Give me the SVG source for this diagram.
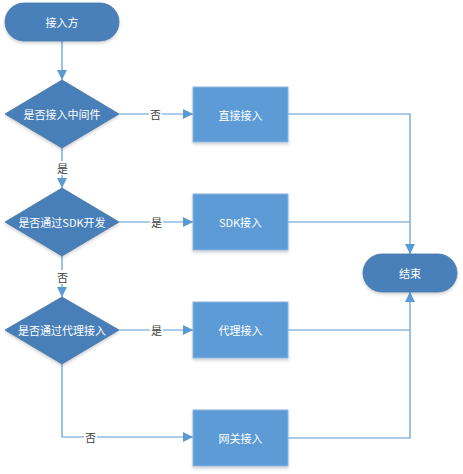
<svg xmlns="http://www.w3.org/2000/svg" width="463" height="474" viewBox="0 0 463 474">
<style>
.term{fill:#4a80b9;stroke:#4274a8;stroke-width:0.8}
.dec{fill:#4a7fb8;stroke:#4274a8;stroke-width:0.8}
.proc{fill:#5b9bd5;stroke:#8db6e0;stroke-width:1}
.t{font-family:"Microsoft YaHei","Noto Sans CJK SC",sans-serif;font-size:11px;fill:#ffffff;text-anchor:middle;dominant-baseline:central}
.lbl{font-family:"Noto Sans CJK SC",sans-serif;font-size:11px;fill:#404040;text-anchor:middle;dominant-baseline:central}
.ln{fill:none;stroke:#5b9bd5;stroke-width:1.2}
.lbg{fill:#ffffff}
</style>
<defs>
<marker id="arr" viewBox="0 0 10 10" refX="10" refY="5" markerWidth="10" markerHeight="10" markerUnits="userSpaceOnUse" orient="auto">
<path d="M0,0 L10,5 L0,10 z" fill="#5b9bd5"/>
</marker>
<filter id="sh" x="-20%" y="-20%" width="140%" height="150%">
<feDropShadow dx="0" dy="2" stdDeviation="1.5" flood-color="#000" flood-opacity="0.18"/>
</filter>
</defs>
<g id="connectors">
<path class="ln" d="M62,41 V80" marker-end="url(#arr)"/>
<path class="ln" d="M119,114 H193" marker-end="url(#arr)"/>
<path class="ln" d="M62,148 V188" marker-end="url(#arr)"/>
<path class="ln" d="M119,222 H193" marker-end="url(#arr)"/>
<path class="ln" d="M62,256 V297" marker-end="url(#arr)"/>
<path class="ln" d="M119,330 H193" marker-end="url(#arr)"/>
<path class="ln" d="M62,364 V437 H193" marker-end="url(#arr)"/>
<path class="ln" d="M288,114 H410 V254" marker-end="url(#arr)"/>
<path class="ln" d="M288,222 H410"/>
<path class="ln" d="M288,330 H410"/>
<path class="ln" d="M288,438 H410 V292" marker-end="url(#arr)"/>
<rect class="lbg" x="149" y="107" width="13" height="14"/>
<text class="lbl" x="155.5" y="114">否</text>
<rect class="lbg" x="56" y="161" width="13" height="14"/>
<text class="lbl" x="62.5" y="168">是</text>
<rect class="lbg" x="150" y="215" width="13" height="14"/>
<text class="lbl" x="156.5" y="222">是</text>
<rect class="lbg" x="56" y="270" width="13" height="14"/>
<text class="lbl" x="62.5" y="277">否</text>
<rect class="lbg" x="150" y="323" width="13" height="14"/>
<text class="lbl" x="156.5" y="330">是</text>
<rect class="lbg" x="84" y="430" width="13" height="14"/>
<text class="lbl" x="90.5" y="437">否</text>
</g>
<g id="start">
<rect class="term" filter="url(#sh)" x="5" y="3" width="114" height="38" rx="19"/>
<text class="t" x="62" y="22">接入方</text>
</g>
<g id="dec1">
<polygon class="dec" filter="url(#sh)" points="62,80 119,114 62,148 5,114"/>
<text class="t" x="62" y="114">是否接入中间件</text>
</g>
<g id="dec2">
<polygon class="dec" filter="url(#sh)" points="62,188 119,222 62,256 5,222"/>
<text class="t" x="62" y="222">是否通过SDK开发</text>
</g>
<g id="dec3">
<polygon class="dec" filter="url(#sh)" points="62,297 119,330 62,364 5,330"/>
<text class="t" x="62" y="330">是否通过代理接入</text>
</g>
<g id="direct">
<rect class="proc" filter="url(#sh)" x="193" y="87" width="95" height="55"/>
<text class="t" x="240.5" y="114.5">直接接入</text>
</g>
<g id="sdk">
<rect class="proc" filter="url(#sh)" x="193" y="194" width="95" height="56"/>
<text class="t" x="240.5" y="222">SDK接入</text>
</g>
<g id="proxy">
<rect class="proc" filter="url(#sh)" x="193" y="302" width="95" height="56"/>
<text class="t" x="240.5" y="330">代理接入</text>
</g>
<g id="gateway">
<rect class="proc" filter="url(#sh)" x="193" y="410" width="95" height="56"/>
<text class="t" x="240.5" y="438">网关接入</text>
</g>
<g id="end">
<rect class="term" filter="url(#sh)" x="363" y="254" width="94" height="38" rx="19"/>
<text class="t" x="410" y="273">结束</text>
</g>
</svg>
